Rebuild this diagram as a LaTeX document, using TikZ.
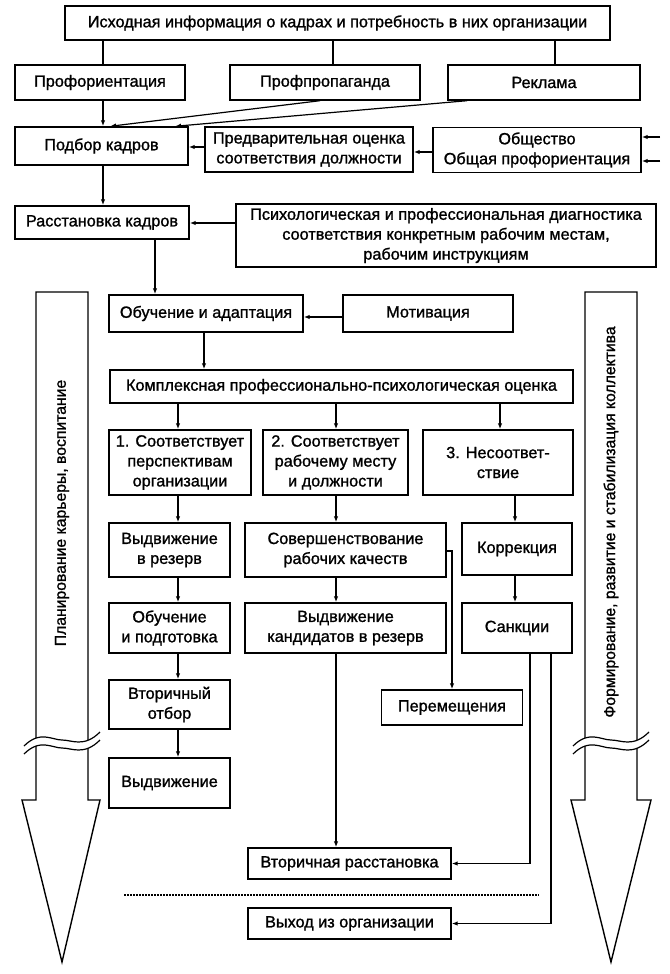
\documentclass[tikz,border=0pt]{standalone}
\usepackage{fontspec}
\setmainfont{Liberation Sans}[FakeBold=0.6]
\newfontfamily\boxfont{Liberation Sans}[FakeBold=1.2]
\usetikzlibrary{arrows.meta}
\newcommand\brkmark[1]{%
  \begin{scope}[xshift=#1bp]
    \fill[white] (-38,746) .. controls (-22,730) and (-10,740) .. (0,740) .. controls (10,740) and (22,748) .. (38,732)
      -- (38,740) .. controls (22,756) and (10,748) .. (0,748) .. controls (-10,748) and (-22,738) .. (-38,754) -- cycle;
    \draw[line width=1.2bp] (-38,746) .. controls (-22,730) and (-10,740) .. (0,740) .. controls (10,740) and (22,748) .. (38,732);
    \draw[line width=1.2bp] (-38,754) .. controls (-22,738) and (-10,748) .. (0,748) .. controls (10,748) and (22,756) .. (38,740);
  \end{scope}}
\begin{document}
\begin{tikzpicture}[x=1bp,y=-1bp,
  box/.style={draw, line width=1.4bp, inner sep=0pt, align=center, font=\boxfont\fontsize{16.3}{20}\selectfont},
  con/.style={line width=1.2bp},
  arr/.style={con, -{Latex[length=6bp,width=4.5bp]}},
  bigarrow/.style={draw, line width=1.4bp, fill=white},
  sidetext/.style={rotate=90, inner sep=0pt, font=\boxfont\fontsize{15.8}{20}\selectfont}]
\useasboundingbox (0,0) rectangle (670,974);

% big side arrows
\draw[bigarrow] (36,292) -- (88,292) -- (88,800) -- (100,800) -- (62,962) -- (22,800) -- (36,800) -- cycle;
\draw[bigarrow] (585,292) -- (637,292) -- (637,800) -- (651,800) -- (611,962) -- (571,800) -- (585,800) -- cycle;
\brkmark{62}
\brkmark{611}
\node[sidetext] (lefttxt) at (62,513) {Планирование карьеры, воспитание};
\node[sidetext] (righttxt) at (611,522) {Формирование, развитие и стабилизация коллектива};

% boxes
\node[box, minimum width=545bp, minimum height=34bp] (top) at (337.5,23) {Исходная информация о кадрах и потребность в них организации};
\node[box, minimum width=170bp, minimum height=35bp] (prof) at (100,82.5) {Профориентация};
\node[box, minimum width=190bp, minimum height=35bp] (propag) at (325,82.5) {Профпропаганда};
\node[box, minimum width=192bp, minimum height=35bp] (reklama) at (544,82.5) {Реклама};
\node[box, minimum width=173bp, minimum height=38bp] (podbor) at (101.5,146) {Подбор кадров};
\node[box, minimum width=208bp, minimum height=45bp] (predv) at (309,149.5) {Предварительная оценка\\соответствия должности};
\node[box, minimum width=208bp, minimum height=45bp] (obsh) at (537,150) {Общество\\Общая профориентация};
\node[box, minimum width=174bp, minimum height=33bp] (rasst) at (102,222.5) {Расстановка кадров};
\node[box, minimum width=420bp, minimum height=63bp] (psych) at (446,235.5) {Психологическая и профессиональная диагностика\\соответствия конкретным рабочим местам,\\рабочим инструкциям};
\node[box, minimum width=194bp, minimum height=37bp] (obuch) at (206,313.5) {Обучение и адаптация};
\node[box, minimum width=170bp, minimum height=37bp] (motiv) at (428,313.5) {Мотивация};
\node[box, minimum width=463bp, minimum height=33bp] (kompl) at (341.5,386.5) {Комплексная профессионально-психологическая оценка};
\node[box, minimum width=142bp, minimum height=65bp] (b1) at (180,462.5) {1. Соответствует\\перспективам\\организации};
\node[box, minimum width=145bp, minimum height=65bp] (b2) at (335.5,462.5) {2. Соответствует\\рабочему месту\\и должности};
\node[box, minimum width=150bp, minimum height=65bp] (b3) at (498,462.5) {3. Несоответ-\\ствие};
\node[box, minimum width=121bp, minimum height=54bp] (vydrez) at (169.5,550) {Выдвижение\\в резерв};
\node[box, minimum width=201bp, minimum height=54bp] (sov) at (345.5,550) {Совершенствование\\рабочих качеств};
\node[box, minimum width=110bp, minimum height=52bp] (korr) at (517,549) {Коррекция};
\node[box, minimum width=121bp, minimum height=50bp] (obpod) at (169.5,628) {Обучение\\и подготовка};
\node[box, minimum width=201bp, minimum height=50bp] (vydkand) at (345.5,628) {Выдвижение\\кандидатов в резерв};
\node[box, minimum width=110bp, minimum height=50bp] (sank) at (517,628) {Санкции};
\node[box, minimum width=121bp, minimum height=49bp] (vtorotb) at (169.5,704.5) {Вторичный\\отбор};
\node[box, minimum width=141bp, minimum height=35bp] (perem) at (452,707.5) {Перемещения};
\node[box, minimum width=121bp, minimum height=50bp] (vydv) at (169.5,783) {Выдвижение};
\node[box, minimum width=203bp, minimum height=31bp] (vtorrass) at (349.5,863.5) {Вторичная расстановка};
\node[box, minimum width=203bp, minimum height=31bp] (vyhod) at (349.5,923.5) {Выход из организации};

% column coordinates
\coordinate (xA) at (103,0);
\coordinate (xP) at (333,0);
\coordinate (xR) at (555,0);
\coordinate (xC) at (155,0);
\coordinate (xO) at (204,0);
\coordinate (c1) at (178,0);
\coordinate (c2) at (336,0);
\coordinate (c3) at (500,0);
\coordinate (c3b) at (515,0);
\coordinate (xPer) at (452,0);
\coordinate (xS1) at (530,0);
\coordinate (xS2) at (551,0);
\coordinate (in1) at (660,137);
\coordinate (in2) at (660,161);
\coordinate (dotL) at (124,895);
\coordinate (dotR) at (539,895);

% connectors
\draw[con] (top.south -| xA) -- (prof.north -| xA);
\draw[con] (top.south -| xP) -- (propag.north -| xP);
\draw[con] (top.south -| xR) -- (reklama.north -| xR);
\draw[arr] (prof.south -| xA) -- (podbor.north -| xA);
\draw[arr] ([xshift=-5bp]propag.south) -- ([xshift=8.5bp]podbor.north);
\draw[arr] ([xshift=-77bp]reklama.south) -- ([xshift=73.5bp]podbor.north);
\draw[arr] (predv.west |- 0,147) -- (podbor.east |- 0,147);
\draw[arr] (obsh.west |- 0,152) -- (predv.east |- 0,152);
\draw[arr] (in1) -- (obsh.east |- in1);
\draw[arr] (in2) -- (obsh.east |- in2);
\draw[arr] (podbor.south -| xA) -- (rasst.north -| xA);
\draw[arr] (psych.west |- 0,223) -- (rasst.east |- 0,223);
\draw[arr] (rasst.south -| xC) -- (obuch.north -| xC);
\draw[arr] (motiv.west |- 0,317) -- (obuch.east |- 0,317);
\draw[arr] (obuch.south -| xO) -- (kompl.north -| xO);
\draw[arr] (kompl.south -| c1) -- (b1.north -| c1);
\draw[arr] (kompl.south -| c2) -- (b2.north -| c2);
\draw[arr] (kompl.south -| c3) -- (b3.north -| c3);
\draw[arr] (b1.south -| c1) -- (vydrez.north -| c1);
\draw[arr] (vydrez.south -| c1) -- (obpod.north -| c1);
\draw[arr] (obpod.south -| c1) -- (vtorotb.north -| c1);
\draw[arr] (vtorotb.south -| c1) -- (vydv.north -| c1);
\draw[arr] (b2.south -| c2) -- (sov.north -| c2);
\draw[arr] (sov.south -| c2) -- (vydkand.north -| c2);
\draw[arr] (vydkand.south -| c2) -- (vtorrass.north -| c2);
\draw[arr] (sov.east |- 0,551) -| (perem.north -| xPer);
\draw[arr] (b3.south -| c3b) -- (korr.north -| c3b);
\draw[arr] (korr.south -| c3b) -- (sank.north -| c3b);
\draw[arr] (sank.south -| xS1) |- (vtorrass.east);
\draw[arr] (sank.south -| xS2) |- (vyhod.east);
\draw[line width=1.2bp, dash pattern=on 1.5bp off 1.5bp] (dotL) -- (dotR);
\end{tikzpicture}
\end{document}
